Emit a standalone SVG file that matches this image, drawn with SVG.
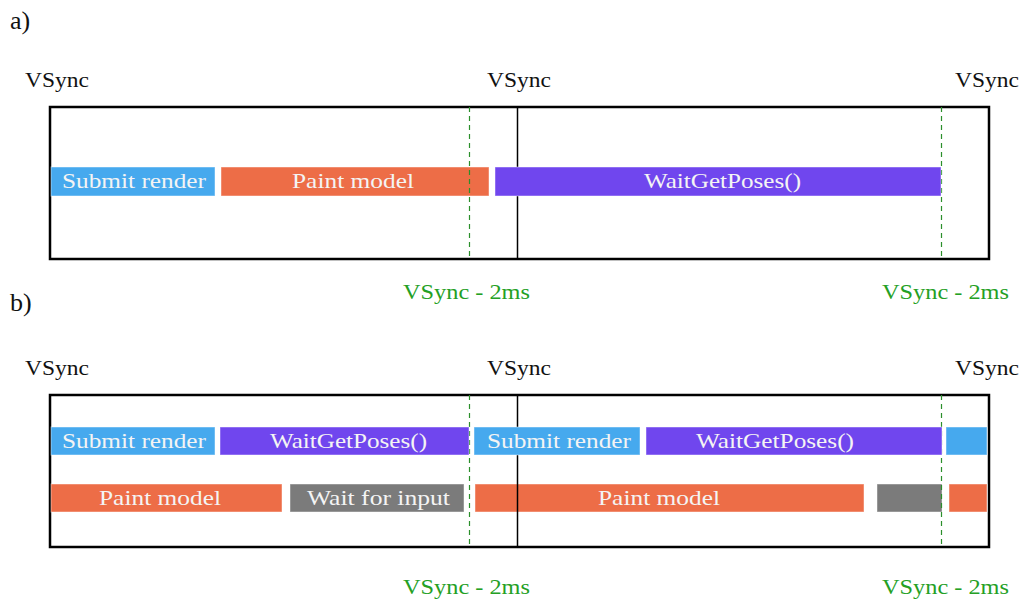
<svg xmlns="http://www.w3.org/2000/svg" width="1023" height="603" viewBox="0 0 1023 603" font-family="'Liberation Serif', 'Times New Roman', serif">
<style>
text{font-family:"Liberation Serif","Times New Roman",serif;font-size:21px}
.lbl{fill:#111}
.sec{font-size:26px;fill:#111}
.grn{fill:#24a024}
.bt{fill:#f4f4f4}
.frame{fill:none;stroke:#000;stroke-width:2.5}
.vs{stroke:#000;stroke-width:1.5}
.dl{stroke:#2b8f2b;stroke-width:1.2;stroke-dasharray:5 4}
.bar{stroke:#ffffff;stroke-opacity:0.45;stroke-width:1}
.blue{fill:#46a9ee}
.orange{fill:#ed6d47}
.purple{fill:#7046ee}
.gray{fill:#7b7b7b}
</style>
<rect width="1023" height="603" fill="#fff"/>

<!-- ===== a) ===== -->
<g id="panel-a">
  <text class="sec" x="10" y="29">a)</text>
  <text class="lbl" x="25" y="87" textLength="64" lengthAdjust="spacingAndGlyphs">VSync</text>
  <text class="lbl" x="487" y="87" textLength="64" lengthAdjust="spacingAndGlyphs">VSync</text>
  <text class="lbl" x="955" y="87" textLength="64" lengthAdjust="spacingAndGlyphs">VSync</text>
  <rect class="frame" x="50" y="107" width="939" height="152"/>
</g>
<g id="a-paint"><rect class="bar orange" x="221" y="167" width="268" height="29"/><text class="bt" x="292" y="188" textLength="122" lengthAdjust="spacingAndGlyphs">Paint model</text></g>

<!-- ===== b) ===== -->
<g id="panel-b">
  <text class="sec" x="10" y="311">b)</text>
  <text class="lbl" x="25" y="375" textLength="64" lengthAdjust="spacingAndGlyphs">VSync</text>
  <text class="lbl" x="487" y="375" textLength="64" lengthAdjust="spacingAndGlyphs">VSync</text>
  <text class="lbl" x="955" y="375" textLength="64" lengthAdjust="spacingAndGlyphs">VSync</text>
  <rect class="frame" x="50" y="395" width="939" height="152"/>
</g>
<g id="b-paint1"><rect class="bar orange" x="51" y="484" width="231" height="28"/><text class="bt" x="99" y="505" textLength="122" lengthAdjust="spacingAndGlyphs">Paint model</text></g>
<g id="b-input1"><rect class="bar gray" x="290" y="484" width="174" height="28"/><text class="bt" x="307" y="505" textLength="143" lengthAdjust="spacingAndGlyphs">Wait for input</text></g>
<g id="b-paint2"><rect class="bar orange" x="475" y="484" width="389" height="28"/><text class="bt" x="598" y="505" textLength="122" lengthAdjust="spacingAndGlyphs">Paint model</text></g>
<g id="b-input2"><rect class="bar gray" x="877" y="484" width="65" height="28"/></g>
<g id="b-paint3"><rect class="bar orange" x="949" y="484" width="38" height="28"/></g>

<!-- ===== connectors: vsync markers ===== -->
<g id="connectors">
  <line class="vs" x1="517.5" y1="107" x2="517.5" y2="259"/>
  <line class="dl" x1="469.5" y1="107" x2="469.5" y2="259"/>
  <line class="dl" x1="941.5" y1="107" x2="941.5" y2="259"/>
  <line class="vs" x1="517.5" y1="395" x2="517.5" y2="547"/>
  <line class="dl" x1="469.5" y1="395" x2="469.5" y2="547"/>
  <line class="dl" x1="941.5" y1="395" x2="941.5" y2="547"/>
</g>

<g id="a-submit"><rect class="bar blue" x="51" y="167" width="164" height="29"/><text class="bt" x="62" y="188" textLength="144" lengthAdjust="spacingAndGlyphs">Submit render</text></g>
<g id="a-wait"><rect class="bar purple" x="495" y="167" width="446" height="29"/><text class="bt" x="644" y="188" textLength="157" lengthAdjust="spacingAndGlyphs">WaitGetPoses()</text></g>
<g id="a-labels">
  <text class="grn" x="403" y="299" textLength="127" lengthAdjust="spacingAndGlyphs">VSync - 2ms</text>
  <text class="grn" x="882" y="299" textLength="127" lengthAdjust="spacingAndGlyphs">VSync - 2ms</text>
</g>

<g id="b-submit1"><rect class="bar blue" x="51" y="427" width="164" height="28"/><text class="bt" x="62" y="448" textLength="144" lengthAdjust="spacingAndGlyphs">Submit render</text></g>
<g id="b-wait1"><rect class="bar purple" x="220" y="427" width="249" height="28"/><text class="bt" x="270" y="448" textLength="157" lengthAdjust="spacingAndGlyphs">WaitGetPoses()</text></g>
<g id="b-submit2"><rect class="bar blue" x="474" y="427" width="166" height="28"/><text class="bt" x="487" y="448" textLength="144" lengthAdjust="spacingAndGlyphs">Submit render</text></g>
<g id="b-wait2"><rect class="bar purple" x="646" y="427" width="296" height="28"/><text class="bt" x="696" y="448" textLength="158" lengthAdjust="spacingAndGlyphs">WaitGetPoses()</text></g>
<g id="b-submit3"><rect class="bar blue" x="946" y="427" width="41" height="28"/></g>
<g id="b-labels">
  <text class="grn" x="403" y="594" textLength="127" lengthAdjust="spacingAndGlyphs">VSync - 2ms</text>
  <text class="grn" x="882" y="594" textLength="127" lengthAdjust="spacingAndGlyphs">VSync - 2ms</text>
</g>
</svg>
